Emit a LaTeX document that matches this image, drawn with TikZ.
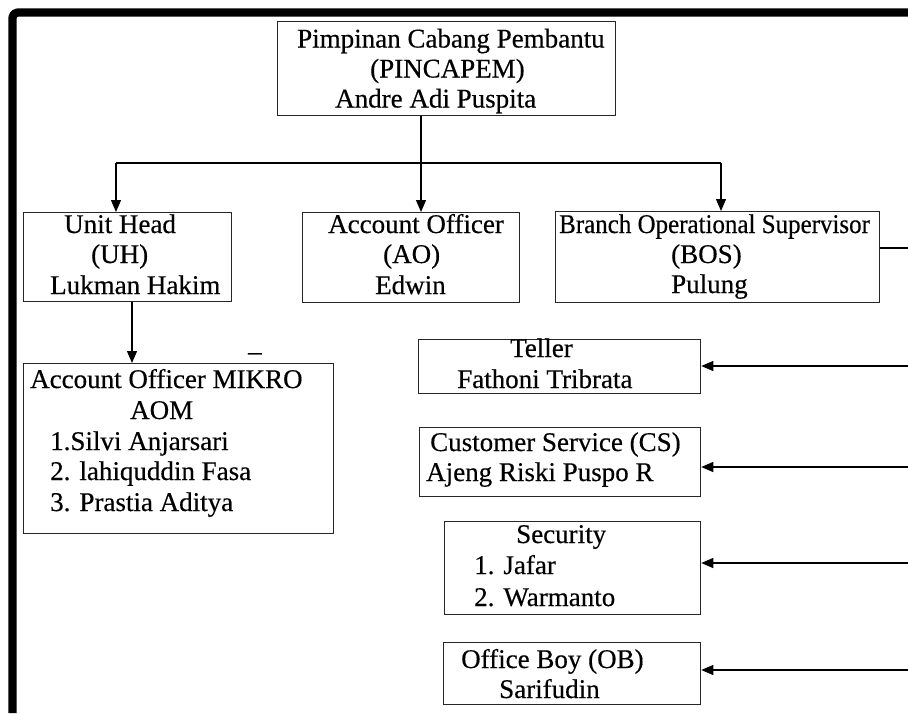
\documentclass[tikz,border=0pt]{standalone}
\usepackage{fontspec}
\setmainfont{Liberation Serif}[FakeBold=0.4]
\usetikzlibrary{arrows.meta}

\tikzset{
  box/.style={draw=black!85, line width=1.3pt, rectangle, inner sep=0pt, anchor=north west},
  txt/.style={inner sep=0pt, anchor=base west, text=black, font=\fontsize{27}{30}\selectfont},
  conn/.style={draw=black, line width=1.3pt},
  arr/.style={conn, -{Triangle[length=12pt, width=10pt]}},
  frame/.style={draw=black, line width=8.3pt, line join=round, rounded corners=5pt},
}

\begin{document}
% org chart, pixel units with y growing downwards
\begin{tikzpicture}[x=1pt, y=-1pt]
\useasboundingbox (0,0) rectangle (908,713);
\fill[white] (0,0) rectangle (908,713);

% heavy outer frame (left and top edges)
\draw[frame] (12.5,713) -- (12.5,12.5) -- (908,12.5);

% boxes
\node[box, minimum width=338pt, minimum height=94pt] (top) at (277,21) {};
\node[box, minimum width=208pt, minimum height=89pt] (uh) at (23,212) {};
\node[box, minimum width=217pt, minimum height=90pt] (ao) at (302,212) {};
\node[box, minimum width=324pt, minimum height=91pt] (bos) at (555,211) {};
\node[box, minimum width=310pt, minimum height=170pt] (aom) at (23,363) {};
\node[box, minimum width=282pt, minimum height=54pt] (teller) at (418,339) {};
\node[box, minimum width=281pt, minimum height=69pt] (cs) at (419,427) {};
\node[box, minimum width=256pt, minimum height=93pt] (sec) at (444,521) {};
\node[box, minimum width=257pt, minimum height=62pt] (ob) at (443,642) {};

% box texts
\node[txt] (top1) at (297,47.5) {Pimpinan Cabang Pembantu};
\node[txt] (top2) at (370,77.5) {(PINCAPEM)};
\node[txt] (top3) at (335,107.5) {Andre Adi Puspita};

\node[txt] (uh1) at (64,233) {Unit Head};
\node[txt] (uh2) at (91,263) {(UH)};
\node[txt] (uh3) at (50,294) {Lukman Hakim};

\node[txt] (ao1) at (328,233) {Account Officer};
\node[txt] (ao2) at (383,263) {(AO)};
\node[txt] (ao3) at (375,294) {Edwin};

\node[txt] (bos1) at (559,233) {\scalebox{0.925}[1]{Branch Operational Supervisor}};
\node[txt] (bos2) at (671,263) {(BOS)};
\node[txt] (bos3) at (671,293) {Pulung};

\node[txt] (dash) at (248,351) {\_};

\node[txt] (aom1) at (30,388) {Account Officer MIKRO};
\node[txt] (aom2) at (130,419) {AOM};
\node[txt] (aom3) at (50,450) {1.Silvi Anjarsari};
\node[txt] (aom4) at (50,480) {2. lahiquddin Fasa};
\node[txt] (aom5) at (50,511) {3. Prastia Aditya};

\node[txt] (tel1) at (510,357) {Teller};
\node[txt] (tel2) at (457,388) {Fathoni Tribrata};

\node[txt] (cs1) at (430,451) {Customer Service (CS)};
\node[txt] (cs2) at (426,481) {Ajeng Riski Puspo R};

\node[txt] (sec1) at (516,543) {Security};
\node[txt] (sec2) at (474,574) {1. Jafar};
\node[txt] (sec3) at (474,606) {2. Warmanto};

\node[txt] (ob1) at (461,668) {Office Boy (OB)};
\node[txt] (ob2) at (499,698) {Sarifudin};

% connector points
\coordinate (busL) at (116,163);
\coordinate (busM) at (421,163);
\coordinate (busR) at (721,163);
\coordinate (uhdrop) at (132,0);
\coordinate (r0) at (908,248);
\coordinate (r1) at (908,366);
\coordinate (r2) at (908,467);
\coordinate (r3) at (908,563);
\coordinate (r4) at (908,670);

% head office down to the three units
\draw[conn] (busM |- top.south) -- (busM);
\draw[conn] (busL) -- (busR);
\draw[arr] (busL) -- (busL |- uh.north);
\draw[arr] (busM) -- (busM |- ao.north);
\draw[arr] (busR) -- (busR |- bos.north);

% unit head to micro account officers
\draw[arr] (uhdrop |- uh.south) -- (uhdrop |- aom.north);

% supervisor line and its staff
\draw[conn] (r0 -| bos.east) -- (r0);
\draw[arr] (r1) -- (r1 -| teller.east);
\draw[arr] (r2) -- (r2 -| cs.east);
\draw[arr] (r3) -- (r3 -| sec.east);
\draw[arr] (r4) -- (r4 -| ob.east);
\end{tikzpicture}
\end{document}
